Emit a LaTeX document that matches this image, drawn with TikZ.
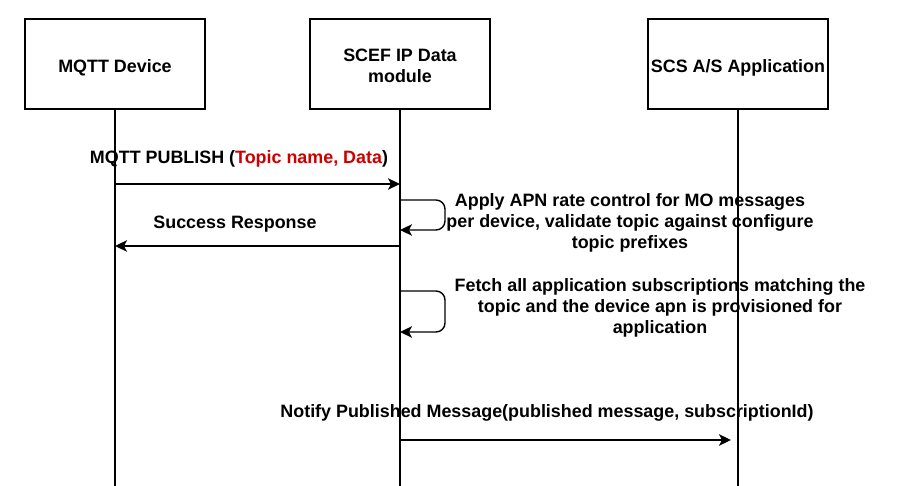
\documentclass[tikz,border=0pt]{standalone}
\usepackage{fontspec}
\setmainfont{Liberation Sans}
\usepackage{tikz}
\usetikzlibrary{arrows.meta}
\definecolor{topicred}{HTML}{CC0000}
\tikzstyle{actor}=[rectangle, draw=black, line width=1.4pt, minimum width=180pt, minimum height=90pt,
        inner xsep=1pt, align=center, font=\fontsize{17.9}{21}\selectfont\bfseries]
\tikzstyle{lifeline}=[line width=1.4pt]
\tikzstyle{msg}=[-{Stealth[length=12pt,width=11.5pt,inset=3pt]}, line width=1.4pt]
\tikzstyle{lbl}=[align=center, inner sep=0pt, font=\fontsize{17.9}{21}\selectfont\bfseries]

\begin{document}
\begin{tikzpicture}[x=1pt, y=-1pt]
\useasboundingbox (0,0) rectangle (898,486);

\node [actor, text height=18pt, text depth=1pt] (dev) at (115,64) {MQTT Device};
\node [actor, text height=37.8pt, text depth=1pt] (scef) at (400,64) {SCEF IP Data\\module};
\node [actor, text height=18pt, text depth=1pt] (scs) at (738,64) {SCS A/S Application};

\coordinate (devEnd) at (dev.south |- 0,486);
\coordinate (scefEnd) at (scef.south |- 0,486);
\coordinate (scsEnd) at (scs.south |- 0,486);
\draw [lifeline] (dev.south) -- (devEnd);
\draw [lifeline] (scef.south) -- (scefEnd);
\draw [lifeline] (scs.south) -- (scsEnd);

% publish
\coordinate (pubA) at (dev.south |- 0,184);
\coordinate (pubB) at (scef.south |- 0,184);
\draw [msg] (pubA) -- (pubB);
\node [lbl] (pubLbl) at (239,159) {MQTT PUBLISH (\textcolor{topicred}{Topic name, Data})};

% rate control
\coordinate (rateA) at (scef.south |- 0,200);
\coordinate (rateB) at (scef.south |- 0,230);
\draw [msg, rounded corners=9pt] (rateA) -- ++(45,0) |- (rateB);
\node [lbl] (rateLbl) at (630,222.5) {Apply APN rate control for MO messages\\per device, validate topic against configure\\topic prefixes};

% response
\coordinate (respA) at (scef.south |- 0,246);
\coordinate (respB) at (dev.south |- 0,246);
\draw [msg] (respA) -- (respB);
\node [lbl] (respLbl) at (235,224) {Success Response};

% fetch subscriptions
\coordinate (subA) at (scef.south |- 0,291);
\coordinate (subB) at (scef.south |- 0,332);
\draw [msg, rounded corners=9pt] (subA) -- ++(45,0) |- (subB);
\node [lbl] (subLbl) at (660,308) {Fetch all application subscriptions matching the\\topic and the device apn is provisioned for\\application};

% notify
\coordinate (notA) at (scef.south |- 0,440);
\coordinate (notB) at (731,440);
\draw [msg] (notA) -- (notB);
\node [lbl] (notLbl) at (547,413) {Notify Published Message(published message, subscriptionId)};

\end{tikzpicture}
\end{document}
